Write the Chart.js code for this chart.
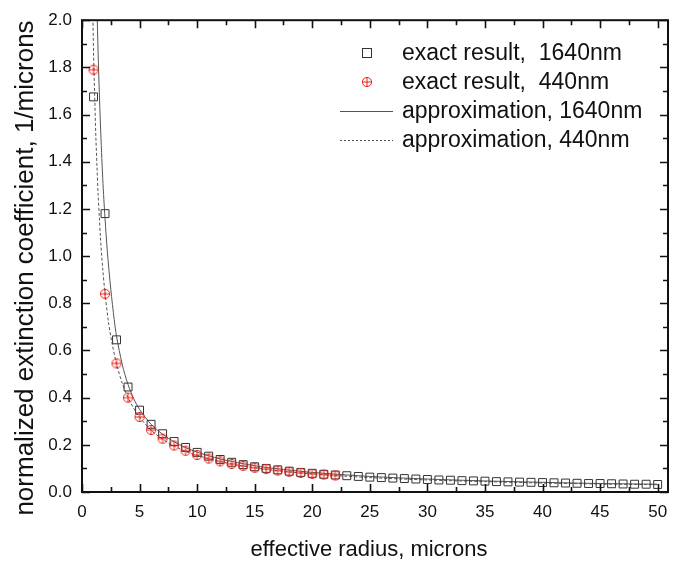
<!DOCTYPE html>
<html>
<head>
<meta charset="utf-8">
<script src="https://cdn.jsdelivr.net/npm/chart.js@4.4.0/dist/chart.umd.min.js"></script>
<style>
  html, body { margin: 0; padding: 0; background: #fff; }
</style>
</head>
<body>
<canvas id="chart" width="694" height="562"></canvas>
<script>
// exact result, 1640nm (radius 1..50)
const radius1640 = [1,2,3,4,5,6,7,8,9,10,11,12,13,14,15,16,17,18,19,20,21,22,23,24,25,
                    26,27,28,29,30,31,32,33,34,35,36,37,38,39,40,41,42,43,44,45,46,47,48,49,50];
const exact1640 = [1.675,1.18,0.645,0.445,0.347,0.287,0.247,0.214,0.189,0.168,0.152,0.138,0.126,0.116,0.107,
                   0.100,0.094,0.088,0.083,0.079,0.075,0.072,0.069,0.066,0.063,0.061,0.059,0.057,0.055,0.053,
                   0.051,0.050,0.048,0.047,0.046,0.044,0.043,0.042,0.041,0.040,0.039,0.038,0.037,0.036,0.036,
                   0.035,0.034,0.033,0.033,0.032];

// exact result, 440nm (radius 1..22)
const radius440 = [1,2,3,4,5,6,7,8,9,10,11,12,13,14,15,16,17,18,19,20,21,22];
const exact440 = [1.79,0.84,0.545,0.40,0.318,0.263,0.226,0.197,0.175,0.157,0.142,0.130,0.119,0.111,0.103,
                  0.097,0.091,0.086,0.081,0.077,0.074,0.070];

// approximation curves
const approxX1640 = [1.3,1.4,1.5,1.6,1.7,1.8,1.9,2.0,2.2,2.5,2.8,3.0,3.5,4,4.5,5,6,7,8,9,10,12,14,16,18,20,25,30,35,40,45,50];
const approxY1640 = [2.05,1.86,1.70,1.56,1.44,1.33,1.24,1.16,1.02,0.86,0.73,0.66,0.54,0.455,0.395,0.350,0.287,0.245,
                     0.213,0.188,0.169,0.140,0.120,0.104,0.093,0.083,0.066,0.055,0.047,0.041,0.036,0.033];
const approxX440 = [0.95,1.0,1.1,1.2,1.3,1.4,1.5,1.6,1.8,2.0,2.3,2.6,3.0,3.5,4,4.5,5,6,7,8,9,10,12,14,16,18,20,22,25,30,35,40,45,50];
const approxY440 = [2.01,1.87,1.68,1.51,1.38,1.26,1.17,1.08,0.945,0.843,0.72,0.633,0.543,0.46,0.40,0.354,0.317,0.262,
                    0.224,0.195,0.172,0.155,0.129,0.110,0.096,0.085,0.077,0.070,0.061,0.051,0.044,0.038,0.034,0.031];

const legendLabels = ['exact result,  1640nm', 'exact result,  440nm', 'approximation, 1640nm', 'approximation, 440nm'];
const xTitle = 'effective radius, microns';
const yTitle = 'normalized extinction coefficient, 1/microns';

const FONT = "'Liberation Sans', Arial, sans-serif";

function toPoints(xs, ys) {
  return xs.map((x, i) => ({ x: x, y: ys[i] }));
}

// red circle with a cross inside
function makeCrossCircle() {
  const c = document.createElement('canvas');
  c.width = 12; c.height = 12;
  const g = c.getContext('2d');
  g.strokeStyle = '#e8231b';
  g.lineWidth = 1;
  g.beginPath();
  g.arc(6, 6, 4.6, 0, 2 * Math.PI);
  g.moveTo(6, 1); g.lineTo(6, 11);
  g.moveTo(1, 6); g.lineTo(11, 6);
  g.stroke();
  return c;
}
const crossCircle = makeCrossCircle();

// frame with inward ticks on all four sides, plus axis titles
const framePlugin = {
  id: 'frame',
  afterDraw(chart) {
    const ctx = chart.ctx;
    const a = chart.chartArea;
    const xs = chart.scales.x, ys = chart.scales.y;
    ctx.save();
    ctx.strokeStyle = '#111';
    ctx.lineWidth = 2;
    ctx.strokeRect(a.left, a.top, a.right - a.left, a.bottom - a.top);
    ctx.lineWidth = 1.6;
    ctx.beginPath();
    for (let i = 0; i <= 20; i++) {
      const v = i * 2.5;
      const px = Math.round(xs.getPixelForValue(v)) + 0.5;
      const len = (i % 2 === 0) ? 8 : 5;
      ctx.moveTo(px, a.bottom); ctx.lineTo(px, a.bottom - len);
      ctx.moveTo(px, a.top); ctx.lineTo(px, a.top + len);
    }
    for (let i = 0; i <= 20; i++) {
      const v = i * 0.1;
      const py = Math.round(ys.getPixelForValue(v)) + 0.5;
      const len = (i % 2 === 0) ? 8 : 5;
      ctx.moveTo(a.left, py); ctx.lineTo(a.left + len, py);
      ctx.moveTo(a.right, py); ctx.lineTo(a.right - len, py);
    }
    ctx.stroke();

    ctx.fillStyle = '#111';
    ctx.textAlign = 'center';
    ctx.textBaseline = 'alphabetic';
    ctx.font = '22px ' + FONT;
    ctx.fillText(xTitle, 369, 556);
    ctx.translate(33, 268);
    ctx.rotate(-Math.PI / 2);
    ctx.font = '26px ' + FONT;
    ctx.fillText(yTitle, 0, 0);
    ctx.restore();
  }
};

// legend drawn inside the plot
const legendPlugin = {
  id: 'innerLegend',
  afterDraw(chart) {
    const ctx = chart.ctx;
    const rowsY = [53, 82, 111, 140];
    const symX = 367, textX = 402;
    ctx.save();
    ctx.font = '23px ' + FONT;
    ctx.fillStyle = '#111';
    ctx.textBaseline = 'middle';
    ctx.strokeStyle = '#333';
    ctx.lineWidth = 1;
    ctx.strokeRect(symX - 4.5, rowsY[0] - 4.5, 9, 9);
    ctx.drawImage(crossCircle, symX - 6, rowsY[1] - 6);
    ctx.strokeStyle = '#555';
    ctx.beginPath();
    ctx.moveTo(340, rowsY[2] + 0.5); ctx.lineTo(393, rowsY[2] + 0.5);
    ctx.stroke();
    ctx.setLineDash([2, 2]);
    ctx.beginPath();
    ctx.moveTo(340, rowsY[3] + 0.5); ctx.lineTo(393, rowsY[3] + 0.5);
    ctx.stroke();
    ctx.setLineDash([]);
    legendLabels.forEach((t, i) => ctx.fillText(t, textX, rowsY[i] + 1));
    ctx.restore();
  }
};

new Chart(document.getElementById('chart'), {
  type: 'scatter',
  data: {
    datasets: [
      {
        label: legendLabels[2],
        data: toPoints(approxX1640, approxY1640),
        showLine: true,
        borderColor: '#555',
        borderWidth: 1,
        pointRadius: 0,
        tension: 0.3,
        order: 3
      },
      {
        label: legendLabels[3],
        data: toPoints(approxX440, approxY440),
        showLine: true,
        borderColor: '#555',
        borderWidth: 1,
        borderDash: [3, 2],
        pointRadius: 0,
        tension: 0.3,
        order: 4
      },
      {
        label: legendLabels[0],
        data: toPoints(radius1640, exact1640),
        pointStyle: 'rect',
        pointRadius: 5.6,
        borderColor: '#333',
        borderWidth: 1,
        backgroundColor: 'rgba(0,0,0,0)',
        order: 2
      },
      {
        label: legendLabels[1],
        data: toPoints(radius440, exact440),
        pointStyle: crossCircle,
        pointRadius: 6,
        order: 1
      }
    ]
  },
  options: {
    responsive: false,
    animation: false,
    layout: { padding: { top: 13, right: 26, left: 0, bottom: 0 } },
    plugins: {
      legend: { display: false },
      tooltip: { enabled: false }
    },
    scales: {
      x: {
        type: 'linear',
        min: 0,
        max: 50.9,
        grid: { display: false, drawTicks: false },
        border: { display: false },
        ticks: {
          stepSize: 5,
          includeBounds: false,
          padding: 10,
          color: '#111',
          font: { family: FONT, size: 17 }
        },
        afterFit(scale) { scale.height = 70; }
      },
      y: {
        type: 'linear',
        min: 0,
        max: 2.0,
        grid: { display: false, drawTicks: false },
        border: { display: false },
        ticks: {
          stepSize: 0.2,
          padding: 10,
          color: '#111',
          font: { family: FONT, size: 17 },
          callback: v => v.toFixed(1)
        },
        afterFit(scale) { scale.width = 82; }
      }
    }
  },
  plugins: [framePlugin, legendPlugin]
});
</script>
</body>
</html>
